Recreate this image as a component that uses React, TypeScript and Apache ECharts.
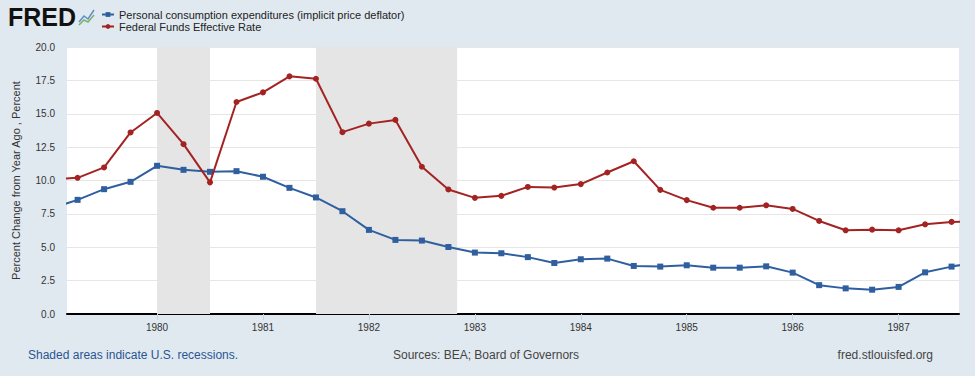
import React, { useEffect, useRef } from "react";
import * as echarts from "echarts";

// Quarter start dates as decimal years (1979 Q1 .. 1987 Q4)
const quarters: number[] = [
  1979.0, 1979.25, 1979.5, 1979.75,
  1980.0, 1980.25, 1980.5, 1980.75,
  1981.0, 1981.25, 1981.5, 1981.75,
  1982.0, 1982.25, 1982.5, 1982.75,
  1983.0, 1983.25, 1983.5, 1983.75,
  1984.0, 1984.25, 1984.5, 1984.75,
  1985.0, 1985.25, 1985.5, 1985.75,
  1986.0, 1986.25, 1986.5, 1986.75,
  1987.0, 1987.25, 1987.5, 1987.75,
];

const pceDeflator: number[] = [
  7.9, 8.55, 9.35, 9.9,
  11.1, 10.8, 10.65, 10.7,
  10.28, 9.45, 8.73, 7.7,
  6.3, 5.55, 5.5, 5.02,
  4.6, 4.55, 4.26, 3.82,
  4.1, 4.15, 3.6, 3.55,
  3.65, 3.47, 3.47, 3.57,
  3.1, 2.16, 1.92, 1.82,
  2.03, 3.12, 3.55, 3.9,
];

const fedFunds: number[] = [
  10.1, 10.2, 10.98, 13.6,
  15.06, 12.72, 9.86, 15.88,
  16.6, 17.8, 17.62, 13.62,
  14.26, 14.54, 11.03, 9.33,
  8.7, 8.85, 9.52, 9.47,
  9.73, 10.6, 11.44, 9.3,
  8.53, 7.96, 7.96, 8.14,
  7.87, 6.97, 6.27, 6.32,
  6.27, 6.72, 6.9, 6.95,
];

const recessions: [number, number][] = [
  [1980.0, 1980.5],
  [1981.5, 1982.833],
];

const yearTicks: number[] = [1980, 1981, 1982, 1983, 1984, 1985, 1986, 1987];

const seriesNames = [
  "Personal consumption expenditures (implicit price deflator)",
  "Federal Funds Effective Rate",
];

const FONT = "'Liberation Sans', Arial, sans-serif";

export default function App() {
  const ref = useRef<HTMLDivElement>(null);
  useEffect(() => {
    document.body.style.margin = "0";
    const chart = echarts.init(ref.current!, null, { renderer: "svg" });
    const pce = quarters.map((q, i) => [q, pceDeflator[i]]);
    const ff = quarters.map((q, i) => [q, fedFunds[i]]);
    chart.setOption({
      animation: false,
      backgroundColor: "#e1e9f0",
      textStyle: { fontFamily: FONT },
      grid: { left: 67, right: 16, top: 47, bottom: 62, show: true, backgroundColor: "#ffffff", borderWidth: 0 },
      legend: {
        orient: "vertical",
        left: 101,
        top: 9,
        padding: 0,
        itemGap: 1,
        itemWidth: 12,
        itemHeight: 6,
        textStyle: { fontSize: 11, color: "#222", fontFamily: FONT },
        data: seriesNames,
      },
      xAxis: {
        type: "value",
        min: 1979.15,
        max: 1987.57,
        splitLine: { show: false },
        axisLine: { show: true, lineStyle: { color: "#000", width: 2 } },
        axisTick: { show: true, customValues: yearTicks, length: 6, lineStyle: { color: "#c5d3e3" } },
        axisLabel: {
          customValues: yearTicks,
          formatter: (v: number) => String(Math.round(v)),
          color: "#333",
          fontSize: 10,
          margin: 8,
        },
      },
      yAxis: {
        type: "value",
        min: 0,
        max: 20,
        interval: 2.5,
        name: "Percent Change from Year Ago , Percent",
        nameLocation: "middle",
        nameGap: 46,
        nameTextStyle: { fontSize: 11, color: "#333" },
        axisLine: { show: false },
        axisTick: { show: false },
        axisLabel: { formatter: (v: number) => v.toFixed(1), color: "#333", fontSize: 10, margin: 12 },
        splitLine: { lineStyle: { color: "#e6e6e6", width: 1 } },
      },
      series: [
        {
          type: "line",
          name: "recessions",
          data: [],
          z: 1,
          silent: true,
          markArea: {
            silent: true,
            itemStyle: { color: "#e5e5e5" },
            data: recessions.map(([a, b]) => [{ xAxis: a }, { xAxis: b }]),
          },
        },
        {
          type: "line",
          name: seriesNames[0],
          data: pce,
          z: 3,
          color: "#2f5f9f",
          symbol: "rect",
          symbolSize: 6,
          lineStyle: { width: 2, color: "#2f5f9f" },
          itemStyle: { color: "#2f5f9f" },
        },
        {
          type: "line",
          name: seriesNames[1],
          data: ff,
          z: 4,
          color: "#a32323",
          symbol: "circle",
          symbolSize: 6,
          lineStyle: { width: 2, color: "#a32323" },
          itemStyle: { color: "#a32323" },
        },
      ],
      graphic: [
        {
          type: "text",
          left: 8,
          top: 4,
          style: { text: "FRED", fontSize: 25, fontWeight: 900, fill: "#111", fontFamily: "'Liberation Sans', Arial, sans-serif" },
        },
        {
          type: "polyline",
          shape: { points: [[79, 22], [84, 16], [88, 19], [94, 10]] },
          style: { stroke: "#5a8fc8", lineWidth: 1.5, fill: "none" },
        },
        {
          type: "polyline",
          shape: { points: [[79, 25], [84, 20], [88, 22], [94, 15]] },
          style: { stroke: "#7fb069", lineWidth: 1.5, fill: "none" },
        },
        {
          type: "text",
          left: 28,
          top: 349,
          style: { text: "Shaded areas indicate U.S. recessions.", fontSize: 12, fill: "#2a5593", fontFamily: FONT },
        },
        {
          type: "text",
          left: 393,
          top: 349,
          style: { text: "Sources: BEA; Board of Governors", fontSize: 12, fill: "#444", fontFamily: FONT },
        },
        {
          type: "text",
          right: 42,
          top: 349,
          style: { text: "fred.stlouisfed.org", fontSize: 12, fill: "#444", fontFamily: FONT },
        },
      ],
    });
    return () => chart.dispose();
  }, []);
  return <div ref={ref} style={{ width: 975, height: 376 }} />;
}
